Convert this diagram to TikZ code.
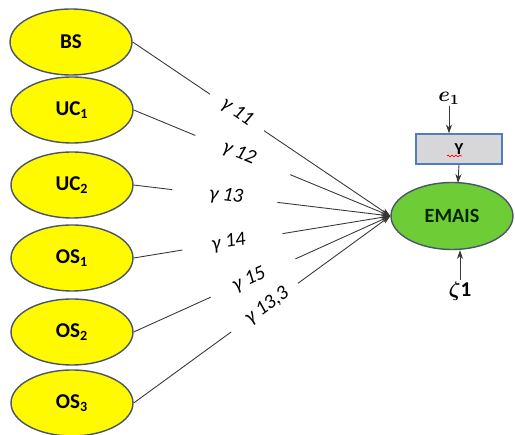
\documentclass[tikz,border=0pt]{standalone}
\usepackage{fontspec}
\setmainfont{Carlito}
\usepackage{bm}
\usetikzlibrary{shapes.geometric,arrows.meta,calc,decorations.pathmorphing}
\definecolor{ylw}{RGB}{255,250,0}
\definecolor{ylwborder}{RGB}{75,85,105}
\definecolor{grn}{RGB}{110,205,55}
\definecolor{boxgray}{RGB}{215,215,218}
\definecolor{boxblue}{RGB}{80,125,190}
\definecolor{linegray}{RGB}{55,55,55}
\begin{document}
\begin{tikzpicture}[x=0.02cm,y=-0.02cm,
  latent/.style={ellipse,draw=ylwborder,line width=0.8pt,fill=ylw,minimum width=2.44cm,minimum height=1.32cm,inner sep=0pt,font=\bfseries\fontsize{12}{14}\selectfont},
  target/.style={ellipse,draw=ylwborder,line width=0.8pt,fill=grn,minimum width=2.44cm,minimum height=1.34cm,inner sep=0pt,font=\bfseries\fontsize{11.5}{13}\selectfont,text=black!85!green},
  obsbox/.style={rectangle,draw=boxblue,line width=0.8pt,fill=boxgray,minimum width=1.72cm,minimum height=0.6cm,inner sep=0pt,font=\bfseries\fontsize{9.5}{11}\selectfont},
  conn/.style={draw=linegray,line width=0.5pt},
  arr/.style={-{Stealth[length=5pt,width=3.5pt]}},
  lab/.style={sloped,font=\itshape\fontsize{11.5}{13}\selectfont,inner sep=1pt},
  errlab/.style={font=\fontsize{12}{14}\selectfont,inner sep=1pt}]
\useasboundingbox (0,0) rectangle (515,435);

\node[latent] (BS)  at (71,42)  {BS};
\node[latent] (UC1) at (72,110) {UC\textsubscript{1}};
\node[latent] (UC2) at (72,185) {UC\textsubscript{2}};
\node[latent] (OS1) at (72,258) {OS\textsubscript{1}};
\node[latent] (OS2) at (72,332) {OS\textsubscript{2}};
\node[latent] (OS3) at (72,403) {OS\textsubscript{3}};

\node[target] (EMAIS) at (452,216) {EMAIS};
\node[obsbox] (Y) at (459,149) {Y};
\draw[red,line width=0.4pt,decorate,decoration={snake,amplitude=0.5pt,segment length=2.2pt}]
  ($(Y.center)+(-12,7)$) -- ($(Y.center)+(3,7)$);

\node[errlab] (e1) at (449,98) {$\bm{e_1}$};
\node[errlab] (z1) at (460,291) {$\bm{\zeta}\mathbf{1}$};

\draw[conn,arr] (e1.south) -- (e1.south |- Y.north);
\draw[conn,arr] (Y.south) -- ($(Y.south |- EMAIS.north)+(-1,1)$);
\draw[conn,arr] (z1.north) -- (z1.north |- EMAIS.south);

\foreach \n/\a/\b/\p/\t in {BS/0.30/0.51/0.405/{11},UC1/0.24/0.61/0.41/{12},UC2/0.15/0.56/0.36/{13},OS1/0.19/0.58/0.37/{14},OS2/0.30/0.63/0.45/{15},OS3/0.38/0.64/0.52/{13,3}}{
  \draw[conn] (\n.east) -- ($(\n.east)!\a!(EMAIS.west)$);
  \draw[conn,arr] ($(\n.east)!\b!(EMAIS.west)$) -- (EMAIS.west);
  \path (\n.east) -- node[lab,pos=\p] {γ \t} (EMAIS.west);
}
\end{tikzpicture}
\end{document}
